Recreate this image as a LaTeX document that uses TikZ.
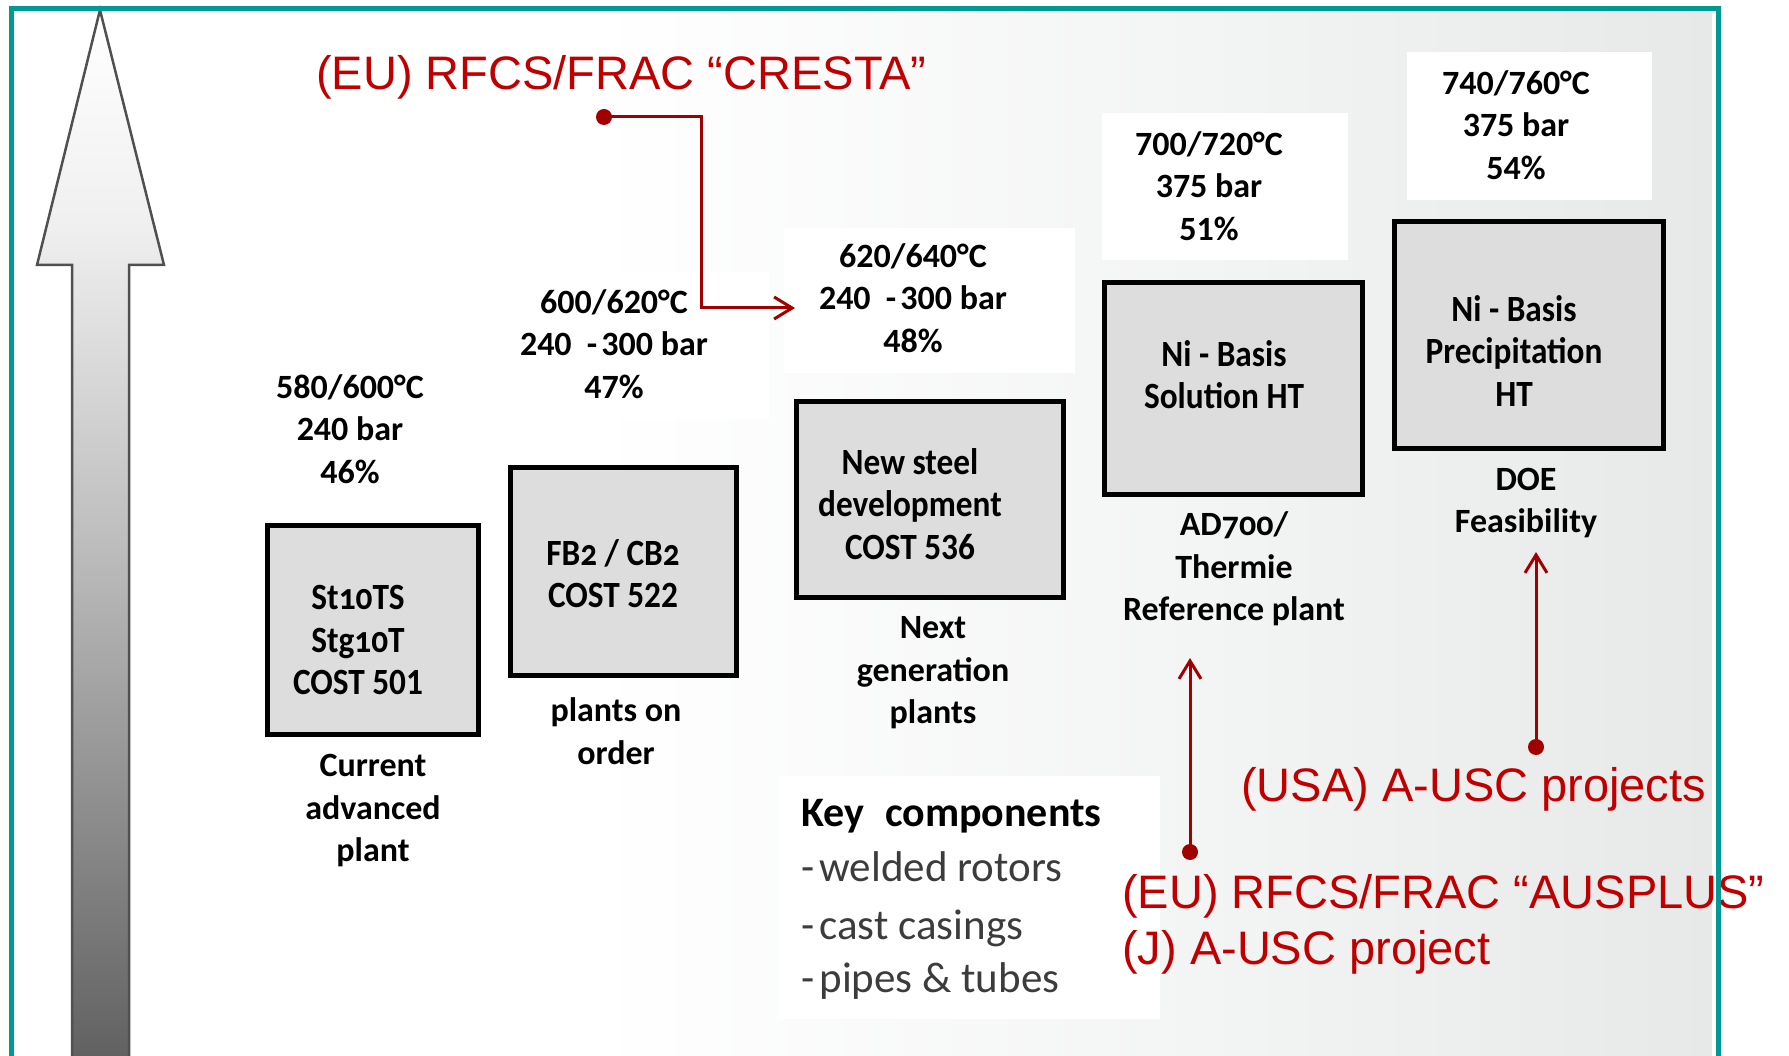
\documentclass[tikz,border=0pt]{standalone}
\usepackage{fontspec}
\setmainfont{Carlito}
\newfontfamily\boxf{Carlito}[FakeStretch=0.9]
\newfontfamily\redf{Liberation Sans}
\newcommand{\osn}[1]{{\addfontfeatures{Numbers=OldStyle}#1}}
\usetikzlibrary{arrows.meta}
\definecolor{cTeal}{RGB}{0,154,150}
\definecolor{cRedTxt}{RGB}{192,0,0}
\definecolor{cRedLn}{RGB}{160,0,0}
\definecolor{cBoxGray}{RGB}{221,221,221}
\definecolor{cBgGray}{RGB}{231,233,232}
\definecolor{cBgMid}{RGB}{243,244,244}
\definecolor{cShaft}{RGB}{96,96,96}
\definecolor{cShaftMid}{RGB}{190,190,190}
\definecolor{cShaftTop}{RGB}{240,240,240}
\definecolor{cArrowEdge}{RGB}{80,80,80}
\definecolor{cListTxt}{RGB}{60,60,60}
% TikZ maps the middle 50bp (25bp..75bp) of a custom shading onto the path
\pgfdeclarehorizontalshading{bgshade}{100bp}{color(0bp)=(white); color(42bp)=(white); color(60bp)=(cBgMid); color(75bp)=(cBgGray); color(100bp)=(cBgGray)}
\pgfdeclareverticalshading{arrowshade}{100bp}{color(0bp)=(cShaft); color(25bp)=(cShaft); color(50bp)=(cShaftMid); color(65bp)=(cShaftTop); color(75bp)=(white); color(100bp)=(white)}
\begin{document}
\begin{tikzpicture}[x=1pt,y=-1pt,
  graybox/.style={draw=black, line width=5pt, fill=cBoxGray, inner sep=0pt},
  whitebox/.style={fill=white, draw=none, inner sep=0pt},
  boxtext/.style={align=center, inner sep=0pt, text=black, font=\boxf\bfseries\fontsize{37}{42.5}\selectfont},
  datatext/.style={align=center, inner sep=0pt, text=black, font=\bfseries\fontsize{34}{42.5}\selectfont},
  kctitle/.style={anchor=base west, inner sep=0pt, text=black, font=\bfseries\fontsize{42}{50}\selectfont},
  kcitem/.style={anchor=base west, inner sep=0pt, text=cListTxt, font=\fontsize{43}{50}\selectfont},
  redtext/.style={anchor=base west, inner sep=0pt, text=cRedTxt, font=\redf\fontsize{47}{56}\selectfont},
  redline/.style={draw=cRedLn, line width=3pt},
  redarrow/.style={redline, -{Straight Barb[length=18pt,width=22pt]}},
  reddot/.style={fill=cRedLn},
]
\useasboundingbox (0,0) rectangle (1789,1056);
\fill[white] (0,0) rectangle (1789,1056);
\shade[shading=bgshade] (14,11) rectangle (1712,1056);

% big arrow
\shadedraw[shading=arrowshade, draw=cArrowEdge, line width=2.5pt, line join=miter]
  (100,10) -- (164,265) -- (129,265) -- (129,1064) -- (72,1064) -- (72,265) -- (37,265) -- cycle;

% white data boxes
\node[whitebox, minimum width=261pt, minimum height=147pt] (w2) at (638.5,345.5) {};
\node[whitebox, minimum width=291pt, minimum height=145pt] (w3) at (929.5,300.5) {};
\node[whitebox, minimum width=246pt, minimum height=147pt] (w4) at (1225,186.5) {};
\node[whitebox, minimum width=245pt, minimum height=148pt] (w5) at (1529.5,126) {};
\node[whitebox, minimum width=382pt, minimum height=243pt] (kc) at (969,897.5) {};

% gray boxes
\node[graybox, minimum width=211pt, minimum height=209pt] (bA) at (373,630) {};
\node[graybox, minimum width=226pt, minimum height=208pt] (bB) at (623.5,571.5) {};
\node[graybox, minimum width=267pt, minimum height=196pt] (bC) at (930,499.5) {};
\node[graybox, minimum width=258pt, minimum height=212pt] (bD) at (1233.5,388.5) {};
\node[graybox, minimum width=269pt, minimum height=227pt] (bE) at (1529,335) {};

% box texts
\node[boxtext] (tA) at (358,640) {St\osn{10}TS\\Stg\osn{10}T\\COST 501};
\node[boxtext] (tB) at (613,573.5) {FB\osn{2} / CB\osn{2}\\COST 522};
\node[boxtext] (tC) at (910,504) {New steel\\development\\COST 536};
\node[boxtext] (tD) at (1224,374.5) {Ni - Basis\\Solution HT};
\node[boxtext] (tE) at (1514,351) {Ni - Basis\\Precipitation\\HT};

% data texts
\node[datatext] (d1) at (350,429) {580/600°C\\240 bar\\46\%};
\node[datatext] (d2) at (614,344) {600/620°C\\240\hspace{0.45em}-\hspace{0.12em}300 bar\\47\%};
\node[datatext] (d3) at (913,298) {620/640°C\\240\hspace{0.45em}-\hspace{0.12em}300 bar\\48\%};
\node[datatext] (d4) at (1209,186) {700/720°C\\375 bar\\51\%};
\node[datatext] (d5) at (1516,125) {740/760°C\\375 bar\\54\%};

% labels under boxes
\node[datatext] (lA) at (373,811) {Current\\advanced\\plant};
\node[datatext] (lB) at (616,731) {plants on\\order};
\node[datatext] (lC) at (933,673) {Next\\generation\\plants};
\node[datatext] (lD) at (1234,569) {AD\osn{700}/\\Thermie\\Reference plant};
\node[datatext] (lE) at (1526,503) {DOE\\Feasibility};

% key components
\node[kctitle] (kc0) at (801,826) {Key\hspace{0.5em}components};
\node[kcitem] (kc1) at (801,881) {-\hspace{0.12em}welded rotors};
\node[kcitem] (kc2) at (801,939) {-\hspace{0.12em}cast casings};
\node[kcitem] (kc3) at (801,992) {-\hspace{0.12em}pipes \& tubes};

% red texts
\node[redtext] (cresta) at (316,90) {(EU) RFCS/FRAC “CRESTA”};
\node[redtext] (usa) at (1241,801) {(USA) A-USC projects};
\node[redtext] (ausplus) at (1122,908) {(EU) RFCS/FRAC “AUSPLUS”};
\node[redtext] (japan) at (1122,964) {(J) A-USC project};

% red connectors
\coordinate (crestaDot) at (604,117);
\coordinate (crestaTip) at (795,308);
\coordinate (euDot) at (1190,852);
\coordinate (euTip) at (1190,658);
\coordinate (usaDot) at (1536,747);
\coordinate (usaTip) at (1536,552);
\draw[redarrow] (crestaDot) -| (701,308) -- (crestaTip);
\draw[redarrow] (euDot) -- (euTip);
\draw[redarrow] (usaDot) -- (usaTip);
\fill[reddot] (crestaDot) circle[radius=8pt];
\fill[reddot] (euDot) circle[radius=8pt];
\fill[reddot] (usaDot) circle[radius=8pt];

% frame
\draw[cTeal, line width=5pt, line join=miter] (11.5,1064) -- (11.5,8.5) -- (1718,8.5) -- (1718,1064);
\end{tikzpicture}
\end{document}
